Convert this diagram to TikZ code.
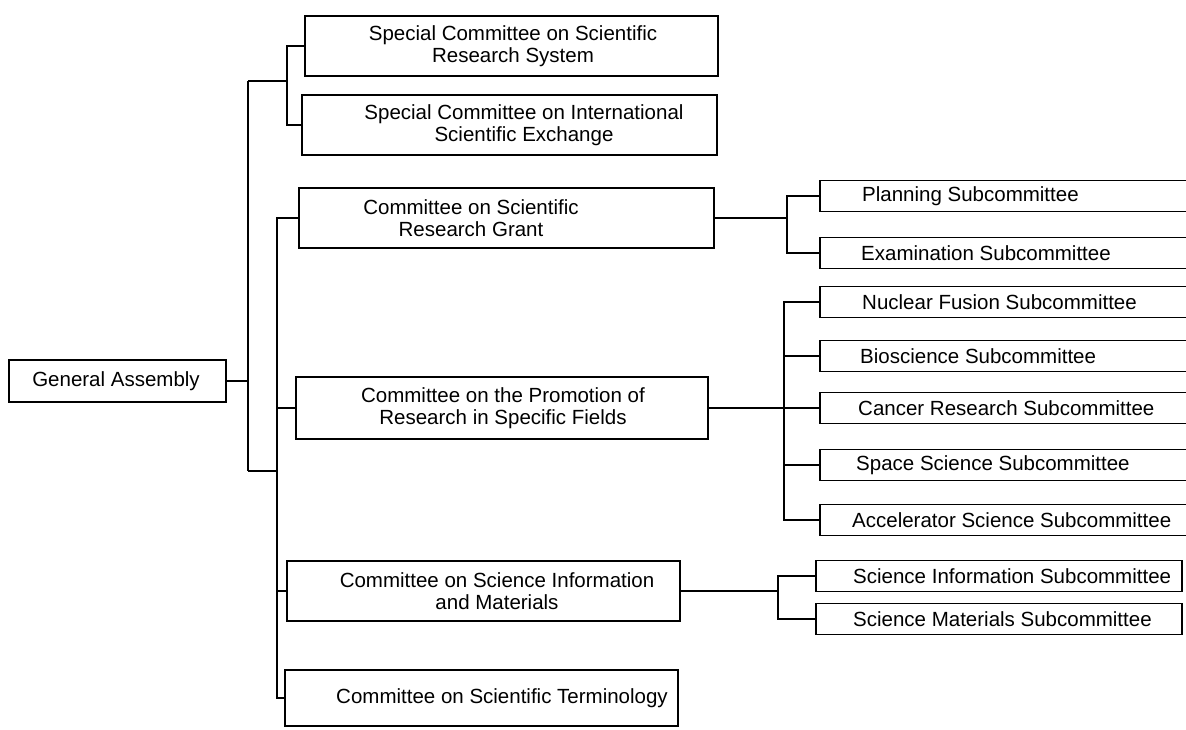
\documentclass[tikz,border=0pt]{standalone}
\usepackage{fontspec}
\setmainfont{Liberation Sans}
\begin{document}
\begin{tikzpicture}[x=1pt,y=-1pt,
  box/.style={draw, line width=1.7pt, inner sep=0pt, rectangle},
  txt/.style={font=\fontsize{20.5}{21.5}\selectfont, align=center, inner sep=0pt},
  subtxt/.style={font=\fontsize{20.5}{21.5}\selectfont, anchor=west, inner sep=0pt},
  subbox/.style={box, minimum width=372pt, minimum height=31pt},
  link/.style={line width=1.7pt}]
\useasboundingbox (0,0) rectangle (1186,730);
\clip (0,0) rectangle (1186,730);

% General Assembly
\node[box, minimum width=217pt, minimum height=42pt] (ga) at (117.5,381) {};
\node[txt] (gat) at (116,381) {General Assembly};

% Committees
\node[box, minimum width=413pt, minimum height=60pt] (s1) at (511.5,46) {};
\node[txt] (s1t) at (513,46) {Special Committee on Scientific\\Research System};
\node[box, minimum width=415pt, minimum height=60pt] (s2) at (509.5,125) {};
\node[txt] (s2t) at (524,125) {Special Committee on International\\Scientific Exchange};
\node[box, minimum width=415pt, minimum height=60pt] (gr) at (506.5,218) {};
\node[txt] (grt) at (471,218) {Committee on Scientific\\Research Grant};
\node[box, minimum width=412pt, minimum height=62pt] (pr) at (502,408) {};
\node[txt] (prt) at (503,408) {Committee on the Promotion of\\Research in Specific Fields};
\node[box, minimum width=393pt, minimum height=60pt] (sic) at (483.5,591) {};
\node[txt] (sict) at (497,591) {Committee on Science Information\\and Materials};
\node[box, minimum width=393pt, minimum height=56pt] (term) at (481.5,698) {};
\node[txt] (termt) at (502,698) {Committee on Scientific Terminology};

% Subcommittees
\node[subbox] (plan) at (1006,196) {};
\node[subtxt] (plant) at (862,196) {Planning Subcommittee};
\node[subbox] (exam) at (1006,253) {};
\node[subtxt] (examt) at (861,253) {Examination Subcommittee};
\node[subbox] (nuc) at (1006,302) {};
\node[subtxt] (nuct) at (862,302) {Nuclear Fusion Subcommittee};
\node[subbox] (bio) at (1006,356) {};
\node[subtxt] (biot) at (860,356) {Bioscience Subcommittee};
\node[subbox] (can) at (1006,408) {};
\node[subtxt] (cant) at (858,408) {Cancer Research Subcommittee};
\node[subbox] (spa) at (1006,465) {};
\node[subtxt] (spat) at (856,465) {Space Science Subcommittee};
\node[subbox] (acc) at (1006,520) {};
\node[subtxt] (acct) at (852,520) {Accelerator Science Subcommittee};
\node[box, minimum width=366pt, minimum height=31pt] (si) at (999,576) {};
\node[subtxt] (sit) at (853,576) {Science Information Subcommittee};
\node[box, minimum width=366pt, minimum height=31pt] (sm) at (999,619) {};
\node[subtxt] (smt) at (853,619) {Science Materials Subcommittee};

% Junction coordinates
\coordinate (ttop) at (248,81);
\coordinate (tbot) at (248,471);
\coordinate (sj) at (287,81);
\coordinate (cj) at (277,471);
\coordinate (gj) at (787,218);
\coordinate (pj) at (784,408);
\coordinate (mj) at (778,591);

% Connectors
\draw[link] (ga.east) -- (ga.east -| ttop);
\draw[link] (ttop) -- (tbot);
\draw[link] (ttop) -- (sj);
\draw[link] (s1.west) -| (sj) |- (s2.west);
\draw[link] (tbot) -- (cj);
\draw[link] (gr.west) -| (cj) |- (term.west);
\draw[link] (pr.west) -- (pr.west -| cj);
\draw[link] (sic.west) -- (sic.west -| cj);

\draw[link] (gr.east) -- (gj);
\draw[link] (plan.west) -| (gj) |- (exam.west);

\draw[link] (pr.east) -- (pj);
\draw[link] (nuc.west) -| (pj) |- (acc.west);
\draw[link] (bio.west) -- (bio.west -| pj);
\draw[link] (can.west) -- (pj);
\draw[link] (spa.west) -- (spa.west -| pj);

\draw[link] (sic.east) -- (mj);
\draw[link] (si.west) -| (mj) |- (sm.west);
\end{tikzpicture}
\end{document}
